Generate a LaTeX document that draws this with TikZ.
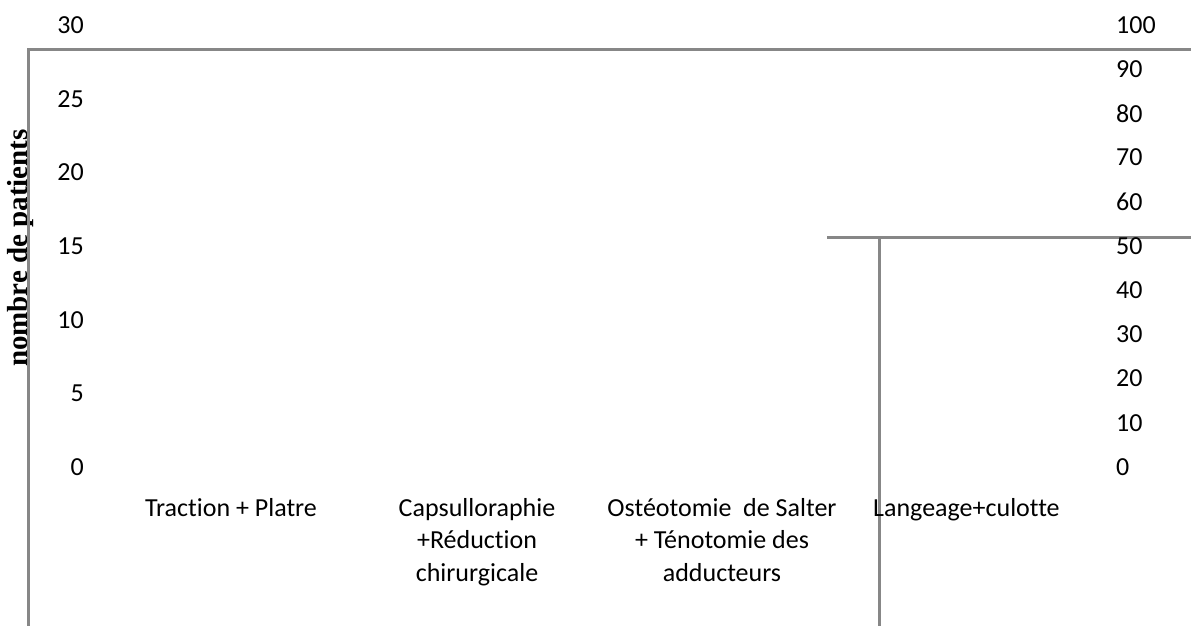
\documentclass[tikz,border=0pt]{standalone}
\usepackage{fontspec}
\setmainfont{Carlito}[Ligatures=NoCommon]
\newfontfamily\axisfont{Liberation Serif}
\begin{document}
\begin{tikzpicture}[x=1pt,y=-1pt,
  axisline/.style={draw=black!47,line width=3pt},
  ticklbl/.style={font=\fontsize{26}{31}\selectfont,inner sep=0pt},
  catlbl/.style={font=\fontsize{26}{32.5}\selectfont,align=center,inner sep=0pt,anchor=north},
]
\useasboundingbox (0,0) rectangle (1191,626);
% axis frame lines
\coordinate (tl) at (28,50);
\coordinate (tr) at (1191,50);
\coordinate (bl) at (28,626);
\coordinate (ml) at (827,237);
\coordinate (mr) at (1191,237);
\coordinate (vt) at (879,237);
\coordinate (vb) at (879,626);
% y-axis title (under line)
\node[font=\axisfont\bfseries\fontsize{29}{34}\selectfont,rotate=90,inner sep=0pt] (ytitle) at (21,248) {nombre de patients};
\draw[axisline] (bl) -- (tl) -- (tr);
\draw[axisline] (ml) -- (mr);
\draw[axisline] (vt) -- (vb);
% left ticks
\foreach \v/\y in {30/25,25/98.7,20/172.3,15/246,10/319.7,5/393.3,0/467}
  \node[ticklbl,anchor=east] (l\v) at (84,\y) {\v};
% right ticks
\foreach \v/\y in {100/25,90/69.2,80/113.4,70/157.6,60/201.8,50/246,40/290.2,30/334.4,20/378.6,10/422.8,0/467}
  \node[ticklbl,anchor=west] (r\v) at (1116,\y) {\v};
% categories
\node[catlbl] (c1) at (231,498) {Traction + Platre};
\node[catlbl] (c2) at (477,498) {Capsullorap\-hie\\+Réduction\\chirurgicale};
\node[catlbl] (c3) at (722,498) {Ostéotomie\ \ de Salter\\+ Ténotomie des\\adducteurs};
\node[catlbl,anchor=north west] (c4) at (873,498) {Langeage+culotte};
\end{tikzpicture}
\end{document}
